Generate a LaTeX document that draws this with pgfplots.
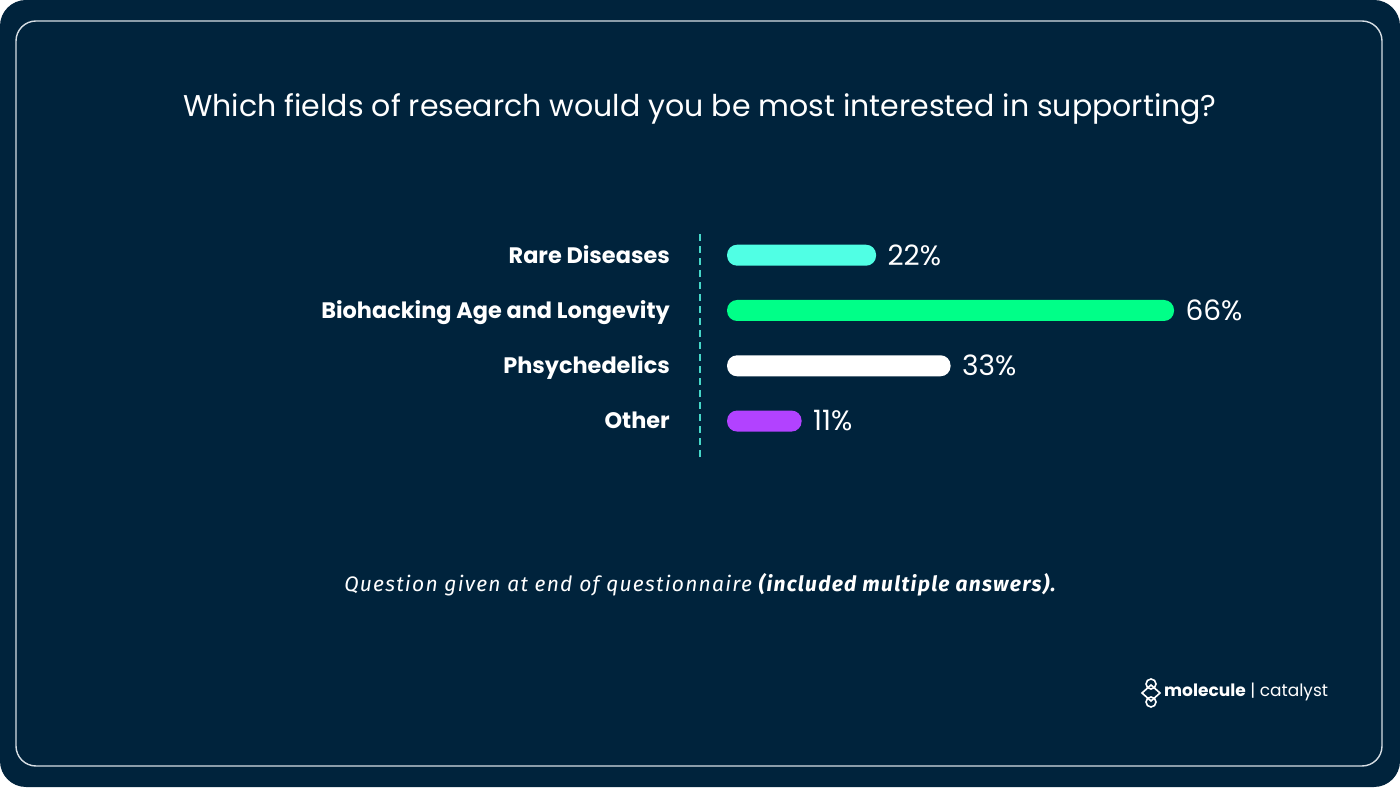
\documentclass[border=0pt]{standalone}
\usepackage{fontspec}
\setmainfont{Poppins}
\newfontfamily\notefont{Fira Sans}[LetterSpace=6]
\usepackage{pgfplots}
\pgfplotsset{compat=1.18}

\definecolor{bg}{RGB}{0, 35, 60}
\definecolor{framecol}{RGB}{215, 222, 228}
\definecolor{cyanbar}{RGB}{80, 255, 228}
\definecolor{greenbar}{RGB}{0, 255, 136}
\definecolor{purplebar}{RGB}{178, 66, 255}
\definecolor{dashcol}{RGB}{70, 215, 200}

\begin{document}
\begin{tikzpicture}[x=1pt, y=1pt]
  % card background
  \fill[white] (0,0) rectangle (1400,787);
  \fill[bg, rounded corners=26pt] (0,0) rectangle (1400,787);
  \draw[framecol, line width=1.4pt, rounded corners=20pt] (16,21) rectangle (1382,766);

  % title
  \node[text=white, font=\fontsize{30}{36}\selectfont] at (700,678)
    {Which fields of research would you be most interested in supporting?};

  \begin{axis}[
    at={(700pt,330pt)}, anchor=south west,
    scale only axis,
    width=474pt, height=225pt,
    xbar, bar width=21pt, bar shift=0pt,
    xmin=-4, xmax=66,
    ymin=-0.42, ymax=3.65,
    y dir=reverse,
    hide x axis,
    axis line style={draw=none},
    ytick={0,1,2,3},
    yticklabels={Rare Diseases, Biohacking Age and Longevity, Phsychedelics, Other},
    major tick length=0pt,
    yticklabel style={text=white, font=\bfseries\fontsize{22.4}{26}\selectfont,
      anchor=east, inner sep=0pt, xshift=-30pt, text height=15.8pt, text depth=0pt},
    point meta=x,
    nodes near coords={\pgfmathprintnumber[assume math mode=true]{\pgfplotspointmeta}\%},
    every node near coord/.append style={text=white, font=\fontsize{28}{32}\selectfont,
      anchor=west, xshift=8pt, text height=19.6pt, text depth=0pt},
    clip=false,
  ]
    \draw[dashcol, line width=1.8pt, dash pattern=on 7pt off 5pt]
      (rel axis cs:0,0) -- (rel axis cs:0,1);
    \addplot[fill=cyanbar, draw=none, rounded corners=10pt] coordinates {(22,0)};
    \addplot[fill=greenbar, draw=none, rounded corners=10pt] coordinates {(66,1)};
    \addplot[fill=white, draw=none, rounded corners=10pt] coordinates {(33,2)};
    \addplot[fill=purplebar, draw=none, rounded corners=10pt] coordinates {(11,3)};
  \end{axis}

  % note
  \node[text=white, font=\notefont\itshape\fontsize{21}{25}\selectfont] at (700,202)
    {Question given at end of questionnaire {\bfseries (included multiple answers).}};

  % logo
  \draw[white, line width=1.6pt] (1151,103) circle (5);
  \draw[white, line width=1.6pt] (1151,102) -- (1142,94) -- (1151,86) -- (1160,94) -- cycle;
  \draw[white, line width=1.6pt] (1151,85) circle (5);
  \node[text=white, anchor=west, inner sep=0pt, font=\fontsize{17}{21}\selectfont] at (1164,95)
    {\bfseries molecule\mdseries\ | catalyst};
\end{tikzpicture}
\end{document}
